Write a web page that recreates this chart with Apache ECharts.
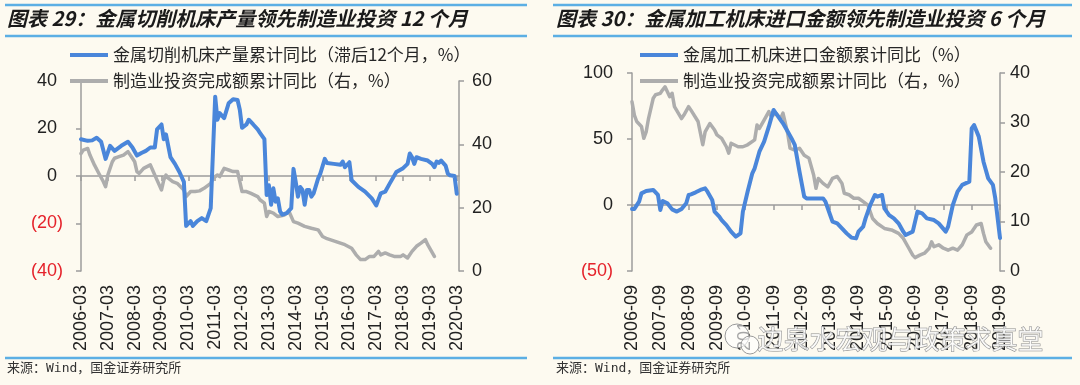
<!DOCTYPE html>
<html>
<head>
<meta charset="utf-8">
<script src="https://cdn.jsdelivr.net/npm/echarts@6/dist/echarts.min.js"></script>
<style>
html,body{margin:0;padding:0;background:#FDFAF0;}
#c{width:1080px;height:385px;}
</style>
</head>
<body>
<div id="c"></div>
<script>
// ---------- Titles / labels ----------
const leftTitle = '图表 29：金属切削机床产量领先制造业投资 12 个月';
const rightTitle = '图表 30：金属加工机床进口金额领先制造业投资 6 个月';
const sourceText = '来源：Wind，国金证券研究所';
const watermarkText = '边泉水宏观与政策求真堂';
const leftBlueName = '金属切削机床产量累计同比（滞后12个月，%）';
const rightBlueName = '金属加工机床进口金额累计同比（%）';
const grayName = '制造业投资完成额累计同比（右，%）';

// ---------- Category ranges (monthly) ----------
const leftRange = ['2006-03', '2020-04'];
const rightRange = ['2006-09', '2019-09'];

// ---------- Left chart: 金属切削机床产量 (lagged 12m), left axis ----------
const leftBlueDates = ['2006-03','2006-06','2006-08','2006-10','2006-12','2007-02','2007-04','2007-06','2007-09','2007-12',
 '2008-02','2008-04','2008-06','2008-08','2008-10','2008-12','2009-01','2009-03','2009-04','2009-05','2009-06','2009-07',
 '2009-09','2009-11','2010-01','2010-02','2010-04','2010-05','2010-07','2010-09','2010-11','2010-12','2011-01','2011-02',
 '2011-03','2011-04','2011-05','2011-07','2011-09','2011-11','2012-01','2012-02','2012-03','2012-05','2012-06','2012-08',
 '2012-10','2012-11','2013-01','2013-02','2013-03','2013-04','2013-05','2013-06','2013-07','2013-08','2013-09','2013-11',
 '2014-01','2014-02','2014-03','2014-04','2014-05','2014-06','2014-07','2014-08','2014-09','2014-10','2014-11','2015-01',
 '2015-02','2015-04','2015-05','2015-08','2015-11','2015-12','2016-01','2016-03','2016-04','2016-07','2016-10','2017-01',
 '2017-03','2017-05','2017-07','2017-09','2017-12','2018-03','2018-05','2018-06','2018-07','2018-08','2018-09','2018-11',
 '2019-02','2019-04','2019-05','2019-06','2019-07','2019-08','2019-10','2019-11','2019-12','2020-02','2020-03'];
const leftBlueValues = [15.5,14.8,15.0,16.1,14.4,7.2,12.7,10.6,12.7,14.4,
 12.0,8.6,9.7,10.6,12.0,12.0,19.6,21.7,15.5,17.5,12.7,7.9,
 5.1,1.7,-2.5,-21,-19,-21,-19,-17.7,-19,-16.3,-13.5,10,
 33.4,23.7,26.5,24.4,30.6,32.3,32.0,27.9,20.3,21.7,23.7,21.7,
 19.6,18.2,15.5,-8,-3.9,-12.1,-5.2,-10.8,-9.4,-14.9,-16.3,-15.6,
 -13.5,3,-2.5,-8.7,-4.6,-5.9,-12.1,-5.9,-5.9,-8.7,-7.3,-1.1,
 1,7.2,5.5,5.1,4.7,6.1,3.7,5.8,-1.8,-4.6,-6.6,-9.4,
 -12.4,-7.3,-6.6,-3.2,1.7,3.3,5.1,9.5,7.9,5.1,7.9,7.2,
 6.5,5.1,3.7,6.1,5.5,6.5,4.4,1,0.3,0,-7.5];

// ---------- Left chart: 制造业投资 (right axis) ----------
const leftGrayDates = ['2006-03','2006-04','2006-06','2006-07','2006-09','2006-11','2007-01','2007-02','2007-03','2007-05',
 '2007-06','2007-08','2007-10','2007-12','2008-02','2008-03','2008-04','2008-05','2008-07','2008-10','2008-11','2009-01',
 '2009-03','2009-04','2009-05','2009-06','2009-08','2009-10','2010-01','2010-02','2010-04','2010-06','2010-08','2010-10',
 '2011-01','2011-02','2011-04','2011-05','2011-07','2011-09','2011-11','2012-01','2012-03','2012-05','2012-07','2012-10',
 '2012-11','2013-01','2013-02','2013-03','2013-05','2013-07','2013-10','2013-12','2014-02','2014-04','2014-07','2014-10',
 '2015-01','2015-03','2015-05','2015-09','2016-01','2016-04','2016-06','2016-08','2016-10','2016-12','2017-02','2017-04',
 '2017-05','2017-07','2017-09','2017-11','2018-02','2018-03','2018-05','2018-07','2018-09','2018-11','2019-01','2019-02',
 '2019-05'];
const leftGrayValues = [37.1,38.2,38.7,36.6,33.5,30.8,28.2,26.6,30.3,34.5,
 35.6,36.1,36.6,37.7,35.6,34.5,31.4,30.8,32.4,33.5,31.9,28.7,
 25.6,28.7,30.3,29.3,28.2,27.7,25.6,23.5,25.1,25.1,25.3,26.1,
 27.7,29.3,30.3,29.8,32.4,31.9,31.4,31.4,25.1,25.1,24.5,23.5,
 22.5,21.4,17.2,18.8,18.3,17.2,17.7,18.8,15.6,15.1,14.1,13.5,
 13.0,10.9,10.2,9.3,8.3,7.2,5.1,3.6,3.6,4.6,4.6,6.2,
 5.1,5.7,5.1,4.6,4.6,5.1,4.1,6.2,7.8,8.8,9.9,8.3,
 4.6];

// ---------- Right chart: 金属加工机床进口金额 (lagged 6m), left axis ----------
const rightBlueDates = ['2006-09','2006-10','2006-12','2007-01','2007-03','2007-06','2007-08','2007-09','2007-10','2007-12',
 '2008-02','2008-04','2008-06','2008-08','2008-09','2008-10','2008-12','2009-02','2009-04','2009-05','2009-07','2009-08',
 '2009-10','2009-11','2010-01','2010-02','2010-03','2010-05','2010-07','2010-08','2010-10','2010-12','2011-01','2011-03',
 '2011-05','2011-07','2011-09','2011-10','2012-01','2012-03','2012-05','2012-06','2012-08','2012-10','2012-11','2013-01',
 '2013-04','2013-06','2013-07','2013-09','2013-10','2013-12','2014-02','2014-04','2014-06','2014-08','2014-09','2014-11',
 '2014-12','2015-02','2015-04','2015-05','2015-07','2015-08','2015-10','2015-12','2016-02','2016-04','2016-05','2016-08',
 '2016-10','2016-12','2017-02','2017-05','2017-07','2017-10','2017-11','2018-01','2018-03','2018-05','2018-08','2018-09',
 '2018-10','2018-12','2019-02','2019-04','2019-06','2019-07','2019-08','2019-09'];
const rightBlueValues = [-3,-3,2.5,8.8,10.6,11.4,7.6,-3.8,3,1.3,
 -3.3,-5,-3,1.3,7.6,8.1,9.6,11.4,12.6,10.1,3.8,-5,
 -8.8,-11.4,-15.2,-17.7,-20.2,-24,-21.5,-5,10.1,24,27.8,40.4,
 48,59.3,72,69.4,61.9,55.6,49.2,45.5,25.3,6.3,5,5,
 5,5,2.5,-7.6,-12.6,-13.9,-17.7,-21.5,-24.7,-25.3,-20.2,-16.4,
 -10.1,0,7.6,6.3,7.6,-2.5,-7.6,-10.1,-13.9,-20.2,-22.7,-20.2,
 -5,-6.3,-10.1,-11.4,-13.9,-20.2,-16.4,0,10.1,15.2,17.7,58,
 60.6,51.8,32.8,20.2,15.2,5,-10,-25];

// ---------- Right chart: 制造业投资 (right axis) ----------
const rightGrayDates = ['2006-09','2006-10','2006-11','2007-01','2007-02','2007-03','2007-04','2007-06','2007-07','2007-09',
 '2007-10','2007-11','2008-01','2008-02','2008-03','2008-06','2008-07','2008-09','2008-10','2009-01','2009-03','2009-04',
 '2009-06','2009-08','2009-09','2009-11','2010-01','2010-02','2010-03','2010-06','2010-08','2010-10','2011-01','2011-02',
 '2011-03','2011-05','2011-07','2011-08','2011-10','2011-12','2012-01','2012-03','2012-04','2012-06','2012-08','2012-10',
 '2012-12','2013-02','2013-03','2013-04','2013-06','2013-08','2013-10','2013-12','2014-02','2014-03','2014-05','2014-07',
 '2014-09','2014-11','2015-01','2015-03','2015-05','2015-08','2015-11','2016-02','2016-04','2016-06','2016-08','2016-09',
 '2016-11','2017-01','2017-03','2017-04','2017-05','2017-07','2017-09','2017-11','2018-01','2018-03','2018-05','2018-07',
 '2018-09','2018-11','2019-01','2019-02','2019-03','2019-05'];
const rightGrayValues = [34.2,31.5,30.2,29.2,26.8,28.1,30.8,34.9,35.6,35.9,
 36.6,37.2,35.2,35.9,33.2,30.8,31.5,33.2,32.5,30.2,25.5,28.1,
 29.8,28.5,27.5,26.8,25.1,23.8,25.8,25.1,25.1,25.5,26.5,29.5,
 28.8,30.5,32.2,31.2,31.9,30.8,31.9,27.8,24.8,24.4,24.8,23.4,
 22.8,19.4,16.7,18.7,17.7,17.0,18.7,19.1,17.7,15.7,15.4,14.7,
 14.7,14.0,13.3,10.6,9.6,8.6,8.3,7.6,6.6,4.9,3.2,2.7,
 3.2,3.6,4.6,5.9,4.9,5.3,4.6,4.2,4.6,4.2,5.3,7.3,
 7.9,9.3,9.6,7.6,5.9,4.6];

// ---------- Axis ranges ----------
const leftAxisL = {min: -40, max: 40, interval: 20};
const leftAxisR = {min: 0, max: 60, interval: 20};
const rightAxisL = {min: -50, max: 100, interval: 50};
const rightAxisR = {min: 0, max: 40, interval: 10};

// ---------- helpers ----------
function monthRange(a, b) {
  let [y, m] = a.split('-').map(Number);
  const [y1, m1] = b.split('-').map(Number);
  const out = [];
  while (y < y1 || (y === y1 && m <= m1)) {
    out.push(y + '-' + (m < 10 ? '0' + m : '' + m));
    m++; if (m > 12) { m = 1; y++; }
  }
  return out;
}
function zip(d, v) { return d.map((x, i) => [x, v[i]]); }

const leftMonths = monthRange(leftRange[0], leftRange[1]);
const rightMonths = monthRange(rightRange[0], rightRange[1]);

const CJK = '"Noto Sans CJK SC", sans-serif';
const NUM = '"Liberation Sans", Arial, sans-serif';
const BLUE = '#4A86DA';
const GRAY = '#ADADAD';
const AXIS = '#9C9C9C';
const RULE = '#5CAFE4';
const RED = '#E5222B';

function labelAxis(grid, data) {
  return {
    gridIndex: grid, type: 'category', data: data, boundaryGap: false, position: 'bottom',
    axisLine: {show: false, onZero: false}, axisTick: {show: false}, splitLine: {show: false},
    axisLabel: {interval: 11, rotate: 90, margin: 14, fontSize: 18, color: '#222', fontFamily: NUM}
  };
}
function zeroAxis(grid, data, yIdx) {
  return {
    gridIndex: grid, type: 'category', data: data, boundaryGap: false, position: 'bottom',
    axisLine: {show: true, onZero: true, onZeroAxisIndex: yIdx, lineStyle: {color: AXIS, width: 1.5}},
    axisTick: {show: true, interval: 11, length: 5, lineStyle: {color: AXIS, width: 1.5}},
    axisLabel: {show: false}, splitLine: {show: false}
  };
}
function yAx(grid, pos, r, margin, fmt) {
  return {
    gridIndex: grid, type: 'value', position: pos, min: r.min, max: r.max, interval: r.interval,
    axisLine: {show: true, lineStyle: {color: AXIS, width: 1.5}},
    axisTick: {show: true, length: 5, lineStyle: {color: AXIS, width: 1.5}},
    splitLine: {show: false},
    axisLabel: {
      margin: margin, fontSize: 18, color: '#222', fontFamily: NUM,
      formatter: fmt || (v => '' + v),
      rich: {
        neg: {color: RED, fontSize: 18, fontFamily: NUM},
        pos: {color: '#222', fontSize: 18, fontFamily: NUM, padding: [0, 6, 0, 0]},
        pz: {color: '#222', fontSize: 18, fontFamily: NUM}
      }
    }
  };
}
const fmtPadded = v => v < 0 ? '{neg|(' + Math.abs(v) + ')}' : '{pos|' + v + '}';
const fmtPlain = v => v < 0 ? '{neg|(' + Math.abs(v) + ')}' : '{pz|' + v + '}';

function legendAt(name, left, top) {
  return {
    data: [name], left: left, top: top, padding: 0, icon: 'rect', itemWidth: 38, itemHeight: 4,
    selectedMode: false,
    textStyle: {fontSize: 17, color: '#262626', fontFamily: CJK, lineHeight: 20}
  };
}

function rule(x1, x2, y) {
  return {type: 'line', shape: {x1: x1, y1: y, x2: x2, y2: y}, style: {stroke: RULE, lineWidth: 2.5}, silent: true};
}
function txt(x, y, text, style) {
  return {type: 'text', left: x, top: y, style: Object.assign({text: text}, style), silent: true};
}

const chart = echarts.init(document.getElementById('c'), null, {renderer: 'canvas'});
const titleStyle = {fontSize: 20, fontWeight: 'bold', fontStyle: 'italic', fontFamily: CJK, fill: '#1a1a1a'};
const srcStyle = {fontSize: 13, fontFamily: '"DejaVu Sans Mono", "Noto Sans CJK SC", monospace', fill: '#333'};
const blueLine = {color: BLUE, width: 4, cap: 'round', join: 'round'};
const grayLine = {color: GRAY, width: 3.5, cap: 'round', join: 'round'};

chart.setOption({
  backgroundColor: '#FDFAF0',
  animation: false,
  grid: [
    {left: 81, top: 81, width: 378, height: 190},
    {left: 632, top: 73, width: 368, height: 198}
  ],
  xAxis: [
    labelAxis(0, leftMonths),
    zeroAxis(0, leftMonths, 0),
    labelAxis(1, rightMonths),
    zeroAxis(1, rightMonths, 2)
  ],
  yAxis: [
    yAx(0, 'left', leftAxisL, 18, fmtPadded),
    yAx(0, 'right', leftAxisR, 13),
    yAx(1, 'left', rightAxisL, 19, fmtPlain),
    yAx(1, 'right', rightAxisR, 10)
  ],
  legend: [
    legendAt(leftBlueName, 70, 45),
    legendAt(grayName, 70, 71),
    legendAt(rightBlueName, 640, 45),
    legendAt(grayName, 640, 71)
  ],
  series: [
    {name: grayName, type: 'line', xAxisIndex: 0, yAxisIndex: 1, data: zip(leftGrayDates, leftGrayValues),
     symbol: 'none', lineStyle: grayLine, itemStyle: {color: GRAY}, z: 2},
    {name: leftBlueName, type: 'line', xAxisIndex: 0, yAxisIndex: 0, data: zip(leftBlueDates, leftBlueValues),
     symbol: 'none', lineStyle: blueLine, itemStyle: {color: BLUE}, z: 3},
    {name: grayName, type: 'line', xAxisIndex: 2, yAxisIndex: 3, data: zip(rightGrayDates, rightGrayValues),
     symbol: 'none', lineStyle: grayLine, itemStyle: {color: GRAY}, z: 2},
    {name: rightBlueName, type: 'line', xAxisIndex: 2, yAxisIndex: 2, data: zip(rightBlueDates, rightBlueValues),
     symbol: 'none', lineStyle: blueLine, itemStyle: {color: BLUE}, z: 3}
  ],
  graphic: [
    rule(5, 527, 5), rule(5, 527, 36), rule(5, 527, 358),
    rule(553, 1072, 5), rule(553, 1072, 36), rule(553, 1072, 358),
    txt(7, 8, leftTitle, titleStyle),
    txt(556, 8, rightTitle, titleStyle),
    txt(7, 362, sourceText, srcStyle),
    txt(556, 362, sourceText, srcStyle),
    {type: 'circle', shape: {cx: 737, cy: 336, r: 12}, z: 100,
     style: {fill: 'rgba(255,255,255,0.6)', stroke: '#9a9a9a', lineWidth: 1}, silent: true},
    {type: 'circle', shape: {cx: 750, cy: 345, r: 9}, z: 100,
     style: {fill: 'rgba(255,255,255,0.6)', stroke: '#9a9a9a', lineWidth: 1}, silent: true},
    {type: 'text', left: 757, top: 326, z: 100, silent: true,
     style: {text: watermarkText, fontSize: 26, fontFamily: CJK, fill: 'rgba(255,255,255,0.8)', stroke: '#8c8c8c', lineWidth: 1}}
  ]
});
</script>
</body>
</html>
